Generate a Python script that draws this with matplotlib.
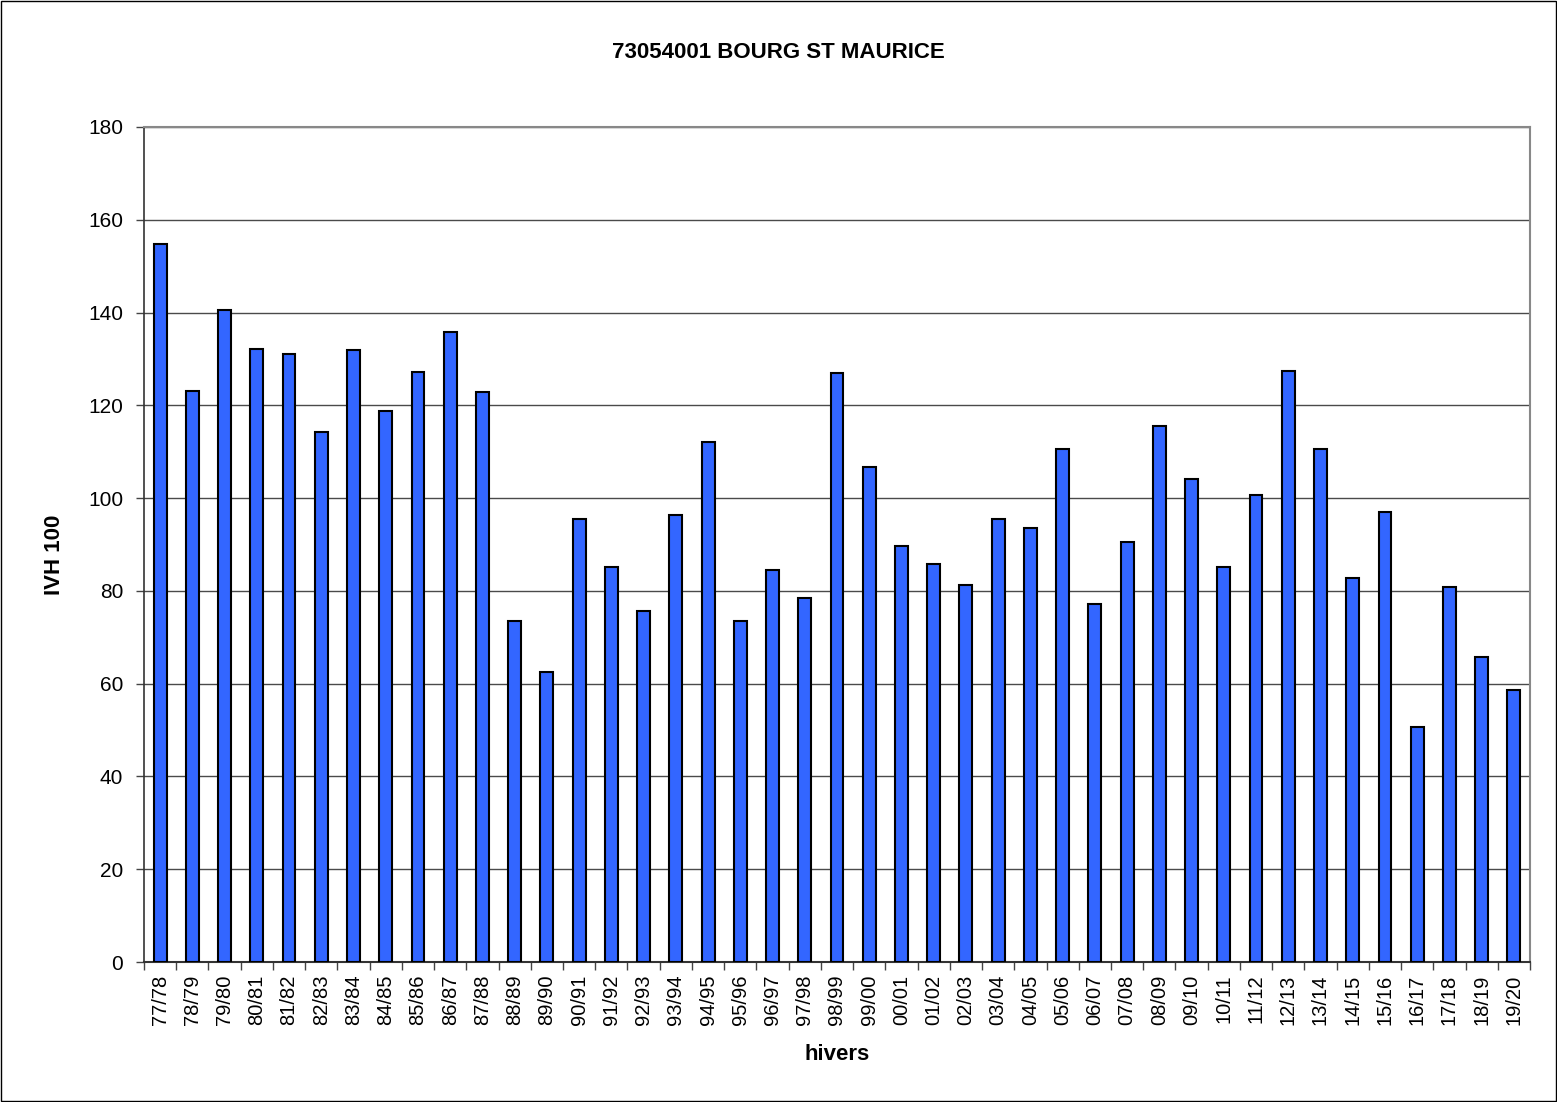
import numpy as np
import matplotlib
matplotlib.use("Agg")
import matplotlib.pyplot as plt
from matplotlib.patches import Rectangle

plt.rcParams['font.family'] = ['Liberation Sans', 'DejaVu Sans']

# winters and IVH 100 values
hivers = ['77/78', '78/79', '79/80', '80/81', '81/82', '82/83', '83/84', '84/85',
          '85/86', '86/87', '87/88', '88/89', '89/90', '90/91', '91/92', '92/93',
          '93/94', '94/95', '95/96', '96/97', '97/98', '98/99', '99/00', '00/01',
          '01/02', '02/03', '03/04', '04/05', '05/06', '06/07', '07/08', '08/09',
          '09/10', '10/11', '11/12', '12/13', '13/14', '14/15', '15/16', '16/17',
          '17/18', '18/19', '19/20']
ivh = [154.8, 123.0, 140.5, 132.2, 131.1, 114.3, 132.0, 118.7,
       127.2, 135.8, 122.8, 73.5, 62.6, 95.6, 85.2, 75.7,
       96.4, 112.1, 73.6, 84.4, 78.4, 126.9, 106.6, 89.7,
       85.9, 81.3, 95.5, 93.5, 110.6, 77.2, 90.5, 115.6,
       104.1, 85.1, 100.6, 127.3, 110.5, 82.8, 96.9, 50.7,
       80.9, 65.7, 58.6]

fig = plt.figure(figsize=(15.57, 11.02), dpi=100)
fig.patches.append(Rectangle((0.0007, 0.0009), 0.9986, 0.9982, transform=fig.transFigure,
                             fill=False, edgecolor='black', linewidth=1))
ax = fig.add_axes([144/1557, 1 - 962/1102, (1530 - 144)/1557, (962 - 127)/1102])

x = np.arange(len(hivers))
ax.bar(x, ivh, width=0.4, color='#3366FF', edgecolor='black', linewidth=1.5, zorder=3)

ax.set_xlim(-0.5, len(hivers) - 0.5)
ax.set_ylim(0, 180)
ax.set_yticks(np.arange(0, 181, 20))
ax.yaxis.grid(True, color='#4a4a4a', linewidth=1)
ax.set_axisbelow(True)

ax.set_xticks(x)
ax.set_xticklabels(hivers, rotation=90)
ax.set_xticks(np.arange(-0.5, len(hivers), 1), minor=True)
ax.tick_params(axis='x', which='major', length=0, pad=9, labelsize=14.5)
ax.tick_params(axis='x', which='minor', length=6, width=1, color='#444444')
ax.tick_params(axis='y', length=6, width=1, color='#444444', labelsize=15, pad=9)

for side in ['top', 'right']:
    ax.spines[side].set_color('#888888')
    ax.spines[side].set_linewidth(1.5)
ax.spines['left'].set_color('#333333')
ax.spines['bottom'].set_color('#333333')
ax.spines['left'].set_linewidth(1.2)
ax.spines['bottom'].set_linewidth(1.5)

fig.text(0.5, 1 - 52/1102, '73054001 BOURG ST MAURICE',
         ha='center', va='center', fontsize=16, fontweight='bold')
fig.text(0.5 * (144 + 1530) / 1557, 1 - 1054/1102, 'hivers',
         ha='center', va='center', fontsize=16, fontweight='bold')
fig.text(55/1557, 1 - 555/1102, 'IVH 100', rotation=90,
         ha='center', va='center', fontsize=16, fontweight='bold')

fig.savefig('out.png', dpi=100)
